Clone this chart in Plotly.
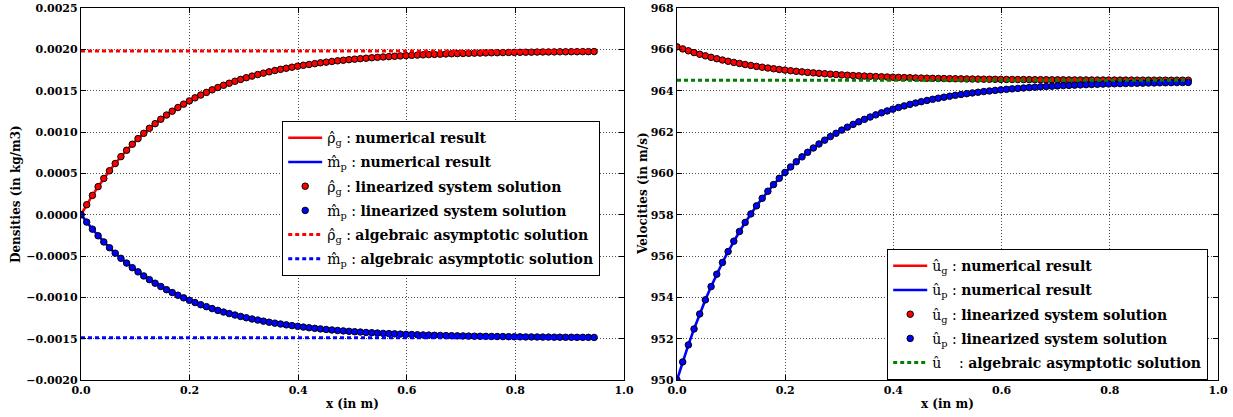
import plotly.graph_objects as go
from plotly.subplots import make_subplots

# ---------------- data ----------------
x_m = [0.0, 0.0105, 0.021, 0.0315, 0.042, 0.0525, 0.063, 0.0735, 0.084, 0.0945,
       0.105, 0.1155, 0.126, 0.1365, 0.147, 0.1575, 0.168, 0.1785, 0.189, 0.1995,
       0.21, 0.2205, 0.231, 0.2415, 0.252, 0.2625, 0.273, 0.2835, 0.294, 0.3045,
       0.315, 0.3255, 0.336, 0.3465, 0.357, 0.3675, 0.378, 0.3885, 0.399, 0.4095,
       0.42, 0.4305, 0.441, 0.4515, 0.462, 0.4725, 0.483, 0.4935, 0.504, 0.5145,
       0.525, 0.5355, 0.546, 0.5565, 0.567, 0.5775, 0.588, 0.5985, 0.609, 0.6195,
       0.63, 0.6405, 0.651, 0.6615, 0.672, 0.6825, 0.693, 0.7035, 0.714, 0.7245,
       0.735, 0.7455, 0.756, 0.7665, 0.777, 0.7875, 0.798, 0.8085, 0.819, 0.8295,
       0.84, 0.8505, 0.861, 0.8715, 0.882, 0.8925, 0.903, 0.9135, 0.924, 0.9345,
       0.945]

rho_g = [0.0, 0.000120, 0.000233, 0.000339, 0.000438, 0.000531, 0.000619, 0.000702, 0.000779, 0.000852,
         0.000920, 0.000984, 0.001045, 0.001101, 0.001155, 0.001205, 0.001252, 0.001296, 0.001337, 0.001376,
         0.001413, 0.001447, 0.001479, 0.001510, 0.001538, 0.001565, 0.001590, 0.001614, 0.001636, 0.001657,
         0.001676, 0.001695, 0.001712, 0.001728, 0.001744, 0.001758, 0.001771, 0.001784, 0.001796, 0.001807,
         0.001817, 0.001827, 0.001837, 0.001845, 0.001853, 0.001861, 0.001868, 0.001875, 0.001881, 0.001887,
         0.001893, 0.001898, 0.001903, 0.001908, 0.001912, 0.001916, 0.001920, 0.001924, 0.001927, 0.001930,
         0.001933, 0.001936, 0.001939, 0.001941, 0.001944, 0.001946, 0.001948, 0.001950, 0.001952, 0.001954,
         0.001955, 0.001957, 0.001958, 0.001959, 0.001961, 0.001962, 0.001963, 0.001964, 0.001965, 0.001966,
         0.001967, 0.001968, 0.001968, 0.001969, 0.001970, 0.001970, 0.001971, 0.001971, 0.001972, 0.001972,
         0.001973]

m_p = [0.0, -0.000090, -0.000175, -0.000255, -0.000330, -0.000400, -0.000466, -0.000528, -0.000586, -0.000641,
       -0.000692, -0.000741, -0.000786, -0.000829, -0.000869, -0.000907, -0.000942, -0.000975, -0.001006, -0.001036,
       -0.001063, -0.001089, -0.001113, -0.001136, -0.001158, -0.001178, -0.001197, -0.001214, -0.001231, -0.001247,
       -0.001262, -0.001275, -0.001288, -0.001301, -0.001312, -0.001323, -0.001333, -0.001342, -0.001351, -0.001360,
       -0.001368, -0.001375, -0.001382, -0.001389, -0.001395, -0.001401, -0.001406, -0.001411, -0.001416, -0.001420,
       -0.001425, -0.001428, -0.001432, -0.001436, -0.001439, -0.001442, -0.001445, -0.001448, -0.001450, -0.001453,
       -0.001455, -0.001457, -0.001459, -0.001461, -0.001463, -0.001464, -0.001466, -0.001467, -0.001469, -0.001470,
       -0.001471, -0.001472, -0.001473, -0.001474, -0.001475, -0.001476, -0.001477, -0.001478, -0.001479, -0.001479,
       -0.001480, -0.001481, -0.001481, -0.001482, -0.001482, -0.001483, -0.001483, -0.001484, -0.001484, -0.001484,
       -0.001485]

u_g = [966.120, 966.022, 965.930, 965.843, 965.762, 965.685, 965.613, 965.546, 965.483, 965.423,
       965.367, 965.315, 965.265, 965.219, 965.175, 965.134, 965.096, 965.060, 965.026, 964.994,
       964.964, 964.936, 964.910, 964.885, 964.861, 964.840, 964.819, 964.800, 964.782, 964.764,
       964.748, 964.733, 964.719, 964.706, 964.693, 964.682, 964.671, 964.660, 964.651, 964.642,
       964.633, 964.625, 964.617, 964.610, 964.604, 964.597, 964.591, 964.586, 964.581, 964.576,
       964.571, 964.567, 964.563, 964.559, 964.555, 964.552, 964.549, 964.546, 964.543, 964.541,
       964.538, 964.536, 964.534, 964.532, 964.530, 964.528, 964.526, 964.525, 964.523, 964.522,
       964.520, 964.519, 964.518, 964.517, 964.516, 964.515, 964.514, 964.513, 964.512, 964.512,
       964.511, 964.510, 964.510, 964.509, 964.509, 964.508, 964.508, 964.507, 964.507, 964.506,
       964.506]

u_p = [950.000, 950.876, 951.698, 952.470, 953.196, 953.878, 954.519, 955.120, 955.686, 956.217,
       956.716, 957.184, 957.624, 958.038, 958.426, 958.791, 959.134, 959.456, 959.759, 960.043,
       960.310, 960.561, 960.797, 961.018, 961.226, 961.421, 961.605, 961.777, 961.939, 962.091,
       962.234, 962.368, 962.494, 962.613, 962.724, 962.829, 962.927, 963.019, 963.106, 963.187,
       963.264, 963.336, 963.403, 963.467, 963.526, 963.582, 963.635, 963.684, 963.731, 963.774,
       963.815, 963.854, 963.890, 963.924, 963.956, 963.985, 964.014, 964.040, 964.065, 964.088,
       964.110, 964.131, 964.150, 964.168, 964.185, 964.201, 964.217, 964.231, 964.244, 964.256,
       964.268, 964.279, 964.289, 964.299, 964.308, 964.317, 964.325, 964.333, 964.340, 964.346,
       964.353, 964.359, 964.364, 964.369, 964.374, 964.379, 964.383, 964.387, 964.391, 964.394,
       964.398]

rho_g_alg = 0.00198
m_p_alg = -0.00149
u_alg = 964.5

x_ticks = [0.0, 0.2, 0.4, 0.6, 0.8, 1.0]
dens_ticks = [-0.0020, -0.0015, -0.0010, -0.0005, 0.0, 0.0005, 0.0010, 0.0015, 0.0020, 0.0025]
vel_ticks = [950, 952, 954, 956, 958, 960, 962, 964, 966, 968]

# ---------------- figure ----------------
SERIF = "DejaVu Serif"
RED, BLUE, GREEN = "#ff0000", "#0000ff", "#008000"

fig = make_subplots(rows=1, cols=2, horizontal_spacing=0.0)

x_ends = [x_m[0], x_m[-1]]


def label(sym, sub, text):
    return f"{sym}<sub>{sub}</sub> : <b>{text}</b>"


left = [
    dict(y=rho_g, mode="lines", line=dict(color=RED, width=2.6),
         name=label("ρ̂", "g", "numerical result")),
    dict(y=m_p, mode="lines", line=dict(color=BLUE, width=2.6),
         name=label("m̂", "p", "numerical result")),
    dict(y=rho_g, mode="markers",
         marker=dict(color=RED, size=6.5, line=dict(color="black", width=1)),
         name=label("ρ̂", "g", "linearized system solution")),
    dict(y=m_p, mode="markers",
         marker=dict(color=BLUE, size=6.5, line=dict(color="black", width=1)),
         name=label("m̂", "p", "linearized system solution")),
]
for i, t in enumerate(left):
    fig.add_trace(go.Scatter(x=x_m, legend="legend", legendgroup=f"L{i}", **t), row=1, col=1)
fig.add_trace(go.Scatter(x=x_ends, y=[rho_g_alg, rho_g_alg], mode="lines",
                         line=dict(color=RED, width=3, dash="4px,3px"),
                         name=label("ρ̂", "g", "algebraic asymptotic solution"),
                         legend="legend", legendgroup="L4"), row=1, col=1)
fig.add_trace(go.Scatter(x=x_ends, y=[m_p_alg, m_p_alg], mode="lines",
                         line=dict(color=BLUE, width=3, dash="4px,3px"),
                         name=label("m̂", "p", "algebraic asymptotic solution"),
                         legend="legend", legendgroup="L5"), row=1, col=1)

right = [
    dict(y=u_g, mode="lines", line=dict(color=RED, width=2.6),
         name=label("û", "g", "numerical result")),
    dict(y=u_p, mode="lines", line=dict(color=BLUE, width=2.6),
         name=label("û", "p", "numerical result")),
    dict(y=u_g, mode="markers",
         marker=dict(color=RED, size=6.5, line=dict(color="black", width=1)),
         name=label("û", "g", "linearized system solution")),
    dict(y=u_p, mode="markers",
         marker=dict(color=BLUE, size=6.5, line=dict(color="black", width=1)),
         name=label("û", "p", "linearized system solution")),
]
for i, t in enumerate(right):
    fig.add_trace(go.Scatter(x=x_m, legend="legend2", legendgroup=f"R{i}", **t), row=1, col=2)
fig.add_trace(go.Scatter(x=x_ends, y=[u_alg, u_alg], mode="lines",
                         line=dict(color=GREEN, width=3, dash="4px,3px"),
                         name="û    : <b>algebraic asymptotic solution</b>",
                         legend="legend2", legendgroup="R4"), row=1, col=2)

W, H = 1233, 417
ML, MR, MT, MB = 81, 15, 8, 37
pw = W - ML - MR
ph = H - MT - MB


def px_x(p):
    return (p - ML) / pw


def px_y(p):
    return (H - MB - p) / ph


tickfont = dict(family=SERIF, size=11, color="black", weight="bold")
common_axis = dict(showline=True, linecolor="black", linewidth=1.2, mirror="allticks",
                   ticks="inside", ticklen=5, tickcolor="black", tickwidth=1,
                   showgrid=True, gridcolor="rgba(0,0,0,0.7)", griddash="1px,2px", gridwidth=1,
                   zeroline=False, tickfont=tickfont)

fig.update_xaxes(range=[0, 1], tickvals=x_ticks, tickformat=".1f", **common_axis)
fig.update_xaxes(domain=[0, px_x(624)], row=1, col=1)
fig.update_xaxes(domain=[px_x(677), 1.0], row=1, col=2)
fig.update_yaxes(range=[-0.0020, 0.0025], tickvals=dens_ticks, tickformat=".4f",
                 row=1, col=1, **common_axis)
fig.update_yaxes(range=[950, 968], tickvals=vel_ticks, tickformat="d",
                 row=1, col=2, **common_axis)

legend_common = dict(bgcolor="white", bordercolor="black", borderwidth=1.2,
                     font=dict(family=SERIF, size=14, color="black"),
                     xanchor="left", yanchor="top", traceorder="grouped",
                     tracegroupgap=3, itemwidth=34)

title_font = dict(family=SERIF, size=12, color="black")

fig.update_layout(
    width=W, height=H,
    margin=dict(l=ML, r=MR, t=MT, b=MB, autoexpand=False),
    paper_bgcolor="white", plot_bgcolor="white",
    legend=dict(x=px_x(282), y=px_y(121), **legend_common),
    legend2=dict(x=px_x(887), y=px_y(249), **legend_common),
    annotations=[
        dict(text="<b>Densities (in kg/m3)</b>", textangle=-90, xref="paper", yref="paper",
             x=px_x(16), y=px_y(194), showarrow=False, xanchor="center", yanchor="middle",
             font=title_font),
        dict(text="<b>Velocities (in m/s)</b>", textangle=-90, xref="paper", yref="paper",
             x=px_x(643), y=px_y(194), showarrow=False, xanchor="center", yanchor="middle",
             font=title_font),
        dict(text="<b>x (in m)</b>", xref="paper", yref="paper",
             x=px_x(352), y=px_y(404), showarrow=False, xanchor="center", yanchor="middle",
             font=title_font),
        dict(text="<b>x (in m)</b>", xref="paper", yref="paper",
             x=px_x(947), y=px_y(404), showarrow=False, xanchor="center", yanchor="middle",
             font=title_font),
    ],
)

fig.write_html("out.html", config={"displayModeBar": False},
               post_script="document.body.style.margin='0px';document.body.style.overflow='hidden';")
